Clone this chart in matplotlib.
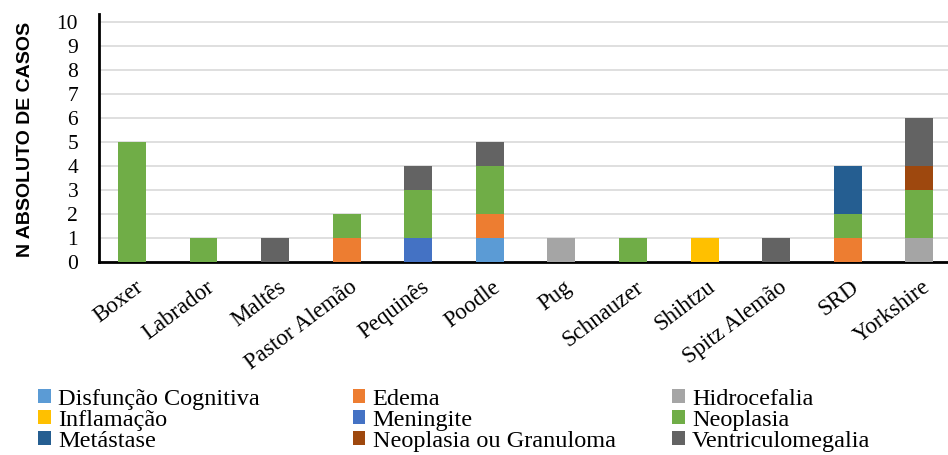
import matplotlib
matplotlib.use("Agg")
import matplotlib.pyplot as plt
import matplotlib.transforms as mtransforms
from matplotlib.patches import Patch
import numpy as np

plt.rcParams["font.family"] = ["Liberation Serif", "DejaVu Serif"]

# breeds on the x axis
racas = ["Boxer", "Labrador", "Maltês", "Pastor Alemão", "Pequinês", "Poodle",
         "Pug", "Schnauzer", "Shihtzu", "Spitz Alemão", "SRD", "Yorkshire"]

# cases per diagnosis, one value per breed (stacking order bottom -> top)
disfuncao    = [0, 0, 0, 0, 0, 1, 0, 0, 0, 0, 0, 0]
edema        = [0, 0, 0, 1, 0, 1, 0, 0, 0, 0, 1, 0]
hidrocefalia = [0, 0, 0, 0, 0, 0, 1, 0, 0, 0, 0, 1]
inflamacao   = [0, 0, 0, 0, 0, 0, 0, 0, 1, 0, 0, 0]
meningite    = [0, 0, 0, 0, 1, 0, 0, 0, 0, 0, 0, 0]
neoplasia    = [5, 1, 0, 1, 2, 2, 0, 1, 0, 0, 1, 2]
metastase    = [0, 0, 0, 0, 0, 0, 0, 0, 0, 0, 2, 0]
neo_granul   = [0, 0, 0, 0, 0, 0, 0, 0, 0, 0, 0, 1]
ventriculo   = [0, 0, 1, 0, 1, 1, 0, 0, 0, 1, 0, 2]

series = [
    ("Disfunção Cognitiva", disfuncao, "#5B9BD5"),
    ("Edema", edema, "#ED7D31"),
    ("Hidrocefalia", hidrocefalia, "#A5A5A5"),
    ("Inflamação", inflamacao, "#FFC000"),
    ("Meningite", meningite, "#4472C4"),
    ("Neoplasia", neoplasia, "#70AD47"),
    ("Metástase", metastase, "#255E91"),
    ("Neoplasia ou Granuloma", neo_granul, "#9E480E"),
    ("Ventriculomegalia", ventriculo, "#636363"),
]

fig = plt.figure(figsize=(9.48, 4.55), dpi=100)
ax = fig.add_axes([0.1044, 0.4242, 0.8956, 0.545])

x = np.arange(len(racas))
base = np.zeros(len(racas))
for nome, vals, cor in series:
    vals = np.array(vals, dtype=float)
    ax.bar(x, vals, bottom=base, width=0.39, color=cor, zorder=3)
    base += vals

ax.set_ylim(0, 10.35)
ax.set_xlim(-0.46, 11.4)
ax.set_yticks(range(0, 11))
ax.yaxis.grid(True, color="#D9D9D9", linewidth=1.2, zorder=0)
ax.set_axisbelow(True)

for s in ["top", "right"]:
    ax.spines[s].set_visible(False)
ax.spines["left"].set_linewidth(2)
ax.spines["bottom"].set_linewidth(2)

ax.tick_params(axis="y", length=0, pad=15, labelsize=15.5)
ax.tick_params(axis="x", length=0, pad=0)
ax.set_xticks(x)
ax.set_xticklabels(racas, rotation=37, ha="right", va="center",
                   rotation_mode="anchor", fontsize=16.5)
shift = mtransforms.ScaledTranslation(0.085, -0.23, fig.dpi_scale_trans)
for lbl in ax.get_xticklabels():
    lbl.set_transform(lbl.get_transform() + shift)

ax.set_ylabel("N ABSOLUTO DE CASOS", fontsize=14, fontweight="bold",
              family=["DejaVu Sans Condensed", "Liberation Sans"])
ax.yaxis.set_label_coords(-0.076, 0.495)

# legend laid out row by row in three columns
handles = [Patch(facecolor=c, label=n) for n, _, c in series]
col_x = [0.040, 0.372, 0.709]
for j in range(3):
    fig.legend(handles=handles[j::3], loc="upper left",
               bbox_to_anchor=(col_x[j], 0.146), frameon=False,
               fontsize=17.5, handlelength=0.52, handleheight=0.52,
               handletextpad=0.3, labelspacing=0.0, borderpad=0,
               borderaxespad=0)

fig.savefig("out.png", dpi=100)
